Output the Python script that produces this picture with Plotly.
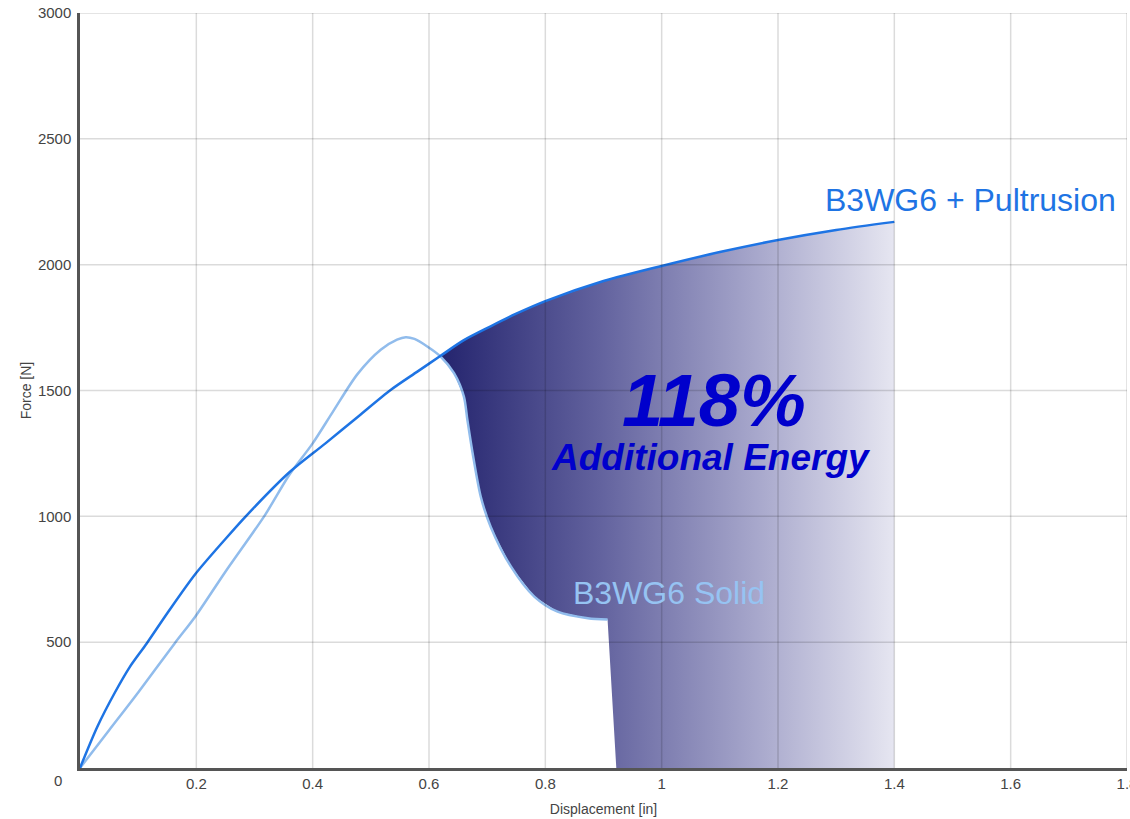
import plotly.graph_objects as go

# ---- data ----
pult_x = [0, 0.03, 0.06, 0.086, 0.115, 0.15, 0.198, 0.25, 0.287, 0.36, 0.422, 0.48, 0.534,
          0.58, 0.62, 0.66, 0.706, 0.75, 0.8, 0.9, 1.0, 1.1, 1.2, 1.3, 1.4]
pult_y = [0, 165, 300, 403, 496, 615, 770, 910, 1005, 1175, 1290, 1400, 1502,
          1575, 1638, 1700, 1755, 1805, 1855, 1935, 1995, 2050, 2098, 2138, 2170]

solid_x = [0, 0.05, 0.1, 0.163, 0.198, 0.25, 0.318, 0.36, 0.40, 0.436, 0.477, 0.517, 0.545,
           0.56, 0.575, 0.597, 0.62, 0.643, 0.66, 0.666, 0.675, 0.689, 0.706, 0.741, 0.781,
           0.821, 0.873, 0.907]
solid_y = [0, 150, 300, 496, 601, 780, 1005, 1165, 1290, 1420, 1565, 1662, 1702,
           1712, 1705, 1675, 1635, 1569, 1476, 1383, 1251, 1078, 959, 800, 681,
           621, 595, 590]

fill_start_x = 0.62     # where the curves cross
fill_drop_x = 0.922     # where the shaded area drops to zero

x_ticks = [0.2, 0.4, 0.6, 0.8, 1.0, 1.2, 1.4, 1.6, 1.8]
x_tick_text = ["0.2", "0.4", "0.6", "0.8", "1", "1.2", "1.4", "1.6", "1.8"]
y_ticks = [500, 1000, 1500, 2000, 2500, 3000]
y_tick_text = ["500", "1000", "1500", "2000", "2500", "3000"]

FONT = "Liberation Sans, Arial, sans-serif"

# ---- shaded area polygon built from the series ----
top = [(x, y) for x, y in zip(pult_x, pult_y) if x >= fill_start_x]
bottom = [(x, y) for x, y in zip(solid_x, solid_y) if x >= fill_start_x]
poly_x = [p[0] for p in top] + [top[-1][0], fill_drop_x] + [p[0] for p in reversed(bottom)]
poly_y = [p[1] for p in top] + [0, 0] + [p[1] for p in reversed(bottom)]

fig = go.Figure()

fig.add_trace(go.Scatter(
    x=poly_x, y=poly_y, mode="none", fill="toself",
    fillgradient=dict(type="horizontal",
                      colorscale=[[0, "rgb(36,36,110)"], [0.35, "rgb(98,98,158)"],
                                  [0.7, "rgb(168,168,204)"], [1, "rgb(230,230,241)"]]),
    hoverinfo="skip", showlegend=False))

fig.add_trace(go.Scatter(
    x=solid_x, y=solid_y, mode="lines",
    line=dict(color="rgb(145,188,236)", width=2.5, shape="spline", smoothing=0.8),
    showlegend=False))

fig.add_trace(go.Scatter(
    x=pult_x, y=pult_y, mode="lines",
    line=dict(color="rgb(30,116,228)", width=2.5, shape="spline", smoothing=0.8),
    showlegend=False))

# gridlines drawn above the shaded area (as in the reference)
shapes = []
for xv in x_ticks:
    shapes.append(dict(type="line", xref="x", yref="paper", x0=xv, x1=xv, y0=0, y1=1,
                       layer="above", line=dict(color="rgba(0,0,0,0.14)", width=1.5)))
for yv in y_ticks:
    shapes.append(dict(type="line", xref="paper", yref="y", x0=0, x1=1, y0=yv, y1=yv,
                       layer="above", line=dict(color="rgba(0,0,0,0.14)", width=1.5)))

annotations = [
    dict(x=1.531, y=2258, xref="x", yref="y", text="B3WG6 + Pultrusion", showarrow=False,
         font=dict(family=FONT, size=32, color="rgb(30,116,228)")),
    dict(x=1.012, y=695, xref="x", yref="y", text="B3WG6 Solid", showarrow=False,
         font=dict(family=FONT, size=32, color="rgb(150,195,242)")),
    dict(x=1.09, y=1462, xref="x", yref="y", text="<b><i>118%</i></b>", showarrow=False,
         font=dict(family=FONT, size=74, color="rgb(0,0,204)")),
    dict(x=1.085, y=1232, xref="x", yref="y", text="<b><i>Additional Energy</i></b>",
         showarrow=False, font=dict(family=FONT, size=37, color="rgb(0,0,204)")),
    dict(x=0, y=0, xref="x", yref="y", text="0", showarrow=False, xshift=-22, yshift=-12,
         font=dict(family=FONT, size=15, color="#444")),
]

fig.update_layout(
    width=1130, height=819,
    margin=dict(l=80, r=3, t=13, b=51),
    paper_bgcolor="white", plot_bgcolor="white",
    font=dict(family=FONT, size=15, color="#444"),
    shapes=shapes, annotations=annotations,
    xaxis=dict(range=[0, 1.8], tickvals=x_ticks, ticktext=x_tick_text, showgrid=False,
               zeroline=False, showline=True, linecolor="#555", linewidth=2.5,
               layer="above traces", ticks="", automargin=False, ticklabeloverflow="allow",
               title=dict(text="Displacement [in]", font=dict(size=14, color="#444"), standoff=14),
               tickfont=dict(size=15, color="#444")),
    yaxis=dict(range=[0, 3000], tickvals=y_ticks, ticktext=y_tick_text, showgrid=False,
               zeroline=False, showline=True, linecolor="#555", linewidth=2.5,
               layer="above traces", ticks="", automargin=False, ticklabelstandoff=3,
               ticklabeloverflow="allow",
               title=dict(text="Force [N]", font=dict(size=14, color="#444"), standoff=3),
               tickfont=dict(size=15, color="#444")),
)

fig.write_html("out.html", config={"displayModeBar": False},
               post_script="document.body.style.margin='0px';document.body.style.overflow='hidden';")
